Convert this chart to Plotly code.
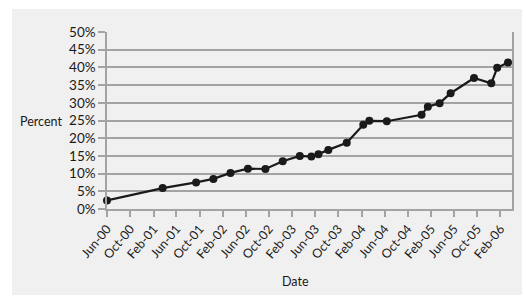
import plotly.graph_objects as go

dates = ["2000-06-01", "2001-03-21", "2001-09-13", "2001-12-13", "2002-03-13",
         "2002-06-13", "2002-09-13", "2002-12-13", "2003-03-13", "2003-05-13",
         "2003-06-19", "2003-08-10", "2003-11-15", "2004-02-10", "2004-03-13",
         "2004-06-13", "2004-12-13", "2005-01-15", "2005-03-18", "2005-05-15",
         "2005-09-15", "2005-12-15", "2006-01-15", "2006-03-13"]
percent = [2.4, 5.9, 7.5, 8.5, 10.2,
           11.4, 11.3, 13.5, 15.0, 14.8,
           15.5, 16.7, 18.7, 23.8, 24.9,
           24.8, 26.6, 28.9, 29.9, 32.7,
           37.0, 35.5, 39.9, 41.4]
y_ticks = list(range(0, 51, 5))
y_labels = [f"{v}%" for v in y_ticks]

font = "Lato"
grid = "#a3a3a3"
panel = "#f0f0f0"

fig = go.Figure()
fig.add_trace(go.Scatter(
    x=dates, y=percent, mode="lines+markers",
    line=dict(color="#1a1a1a", width=2.2),
    marker=dict(color="#1a1a1a", size=8),
    showlegend=False, cliponaxis=False,
))

fig.add_shape(type="rect", xref="paper", yref="paper",
              x0=-0.2346, x1=1.0247, y0=-0.486, y1=1.13,
              fillcolor=panel, line=dict(width=0), layer="below")

fig.update_layout(
    width=526, height=296,
    margin=dict(l=107, r=14, t=32, b=87),
    paper_bgcolor="white", plot_bgcolor=panel,
    font=dict(family=font, size=13, color="#1a1a1a"),
    xaxis=dict(
        type="date", range=["2000-06-01", "2006-04-03"],
        tick0="2000-06-01", dtick="M4", tickformat="%b-%y",
        tickangle=-50, ticks="outside", ticklen=6, tickcolor=grid, tickwidth=1.5,
        showgrid=False, showline=True, linecolor=grid, linewidth=1.5,
        tickfont=dict(size=12.5), zeroline=False,
    ),
    yaxis=dict(
        range=[0, 50], tickvals=y_ticks, ticktext=y_labels,
        ticks="outside", ticklen=7, tickcolor=grid, tickwidth=1.5,
        showgrid=True, gridcolor=grid, gridwidth=1.5,
        showline=True, mirror=True, linecolor=grid, linewidth=1.5,
        zeroline=False, tickfont=dict(size=13.5),
    ),
    annotations=[
        dict(text="Percent", xref="paper", yref="paper", x=-0.163, y=0.497,
             xanchor="center", yanchor="middle",
             showarrow=False, font=dict(size=12.5)),
        dict(text="Date", xref="paper", yref="paper", x=0.465, y=-0.407,
             xanchor="center", yanchor="middle",
             showarrow=False, font=dict(size=12.5)),
    ],
)

fig.write_html("out.html")
